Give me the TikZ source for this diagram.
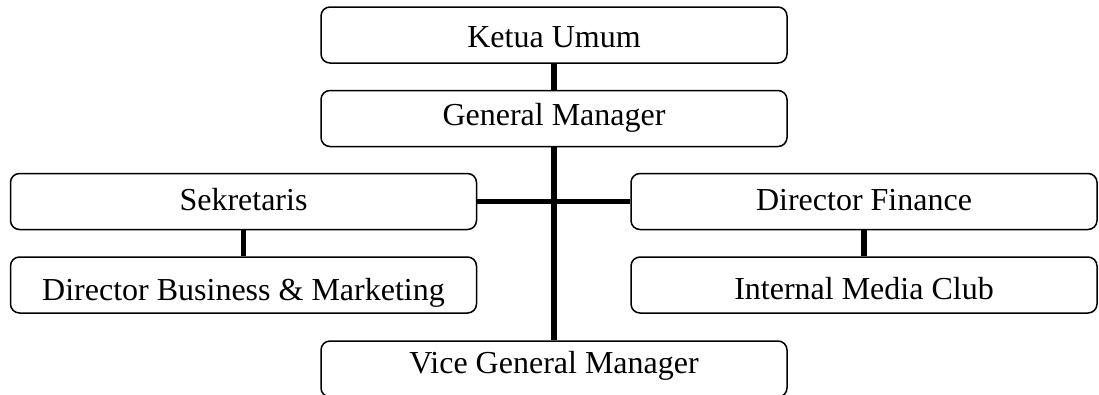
\documentclass[tikz,border=0pt]{standalone}
\usepackage{fontspec}
\setmainfont{Liberation Serif}
\begin{document}
\begin{tikzpicture}[x=1pt,y=-1pt,
  orgbox/.style={draw=black, line width=1.5pt, rounded corners=9pt,
    rectangle, minimum width=466pt, minimum height=56pt, inner sep=0pt},
  orgtext/.style={anchor=base, inner sep=0pt,
    font=\fontsize{32}{38}\selectfont},
  link/.style={draw=black, line width=5.5pt}]
\useasboundingbox (0,0) rectangle (1099,394);
\clip (0,0) rectangle (1099,394);
% boxes
\node[orgbox] (ketua) at (554,35) {};
\node[orgbox] (gm) at (554,118.5) {};
\node[orgbox] (sek) at (243.5,201.5) {};
\node[orgbox] (dbm) at (243.5,285) {};
\node[orgbox] (dfin) at (864,201.5) {};
\node[orgbox] (imc) at (864,285) {};
\node[orgbox] (vgm) at (554,369) {};
% titles, placed on their baselines
\node[orgtext] (ketuaT) at (554,47) {Ketua Umum};
\node[orgtext] (gmT) at (554,125) {General Manager};
\node[orgtext] (sekT) at (243.5,210) {Sekretaris};
\node[orgtext] (dbmT) at (243.5,300) {Director Business \& Marketing};
\node[orgtext] (dfinT) at (864,210) {Director Finance};
\node[orgtext] (imcT) at (864,299) {Internal Media Club};
\node[orgtext] (vgmT) at (554,373) {Vice General Manager};
% connectors
\draw[link] (ketua.south) -- (gm.north);
\draw[link] (gm.south) -- (vgm.north);
\draw[link] (sek.east) -- (dfin.west);
\draw[link] (sek.south) -- (dbm.north);
\draw[link] (dfin.south) -- (imc.north);
\end{tikzpicture}
\end{document}
